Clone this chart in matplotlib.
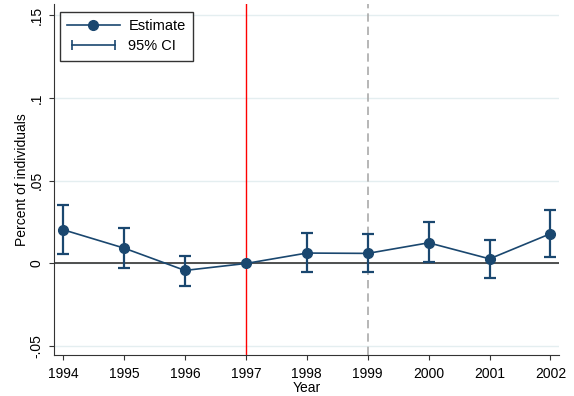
import matplotlib
matplotlib.use("Agg")
from matplotlib import pyplot as plt
from matplotlib.lines import Line2D
from matplotlib.legend_handler import HandlerLine2D

# event-study estimates
years = [1994, 1995, 1996, 1997, 1998, 1999, 2000, 2001, 2002]
estimate = [0.0204, 0.0093, -0.0042, 0.0, 0.0063, 0.0061, 0.0125, 0.0028, 0.0180]
ci_low = [0.0059, -0.0026, -0.0137, 0.0, -0.0050, -0.0050, 0.0006, -0.0085, 0.0039]
ci_high = [0.0352, 0.0215, 0.0047, 0.0, 0.0182, 0.0176, 0.0248, 0.0144, 0.0325]
ytick_vals = [-0.05, 0, 0.05, 0.1, 0.15]
ytick_labels = ["-.05", "0", ".05", ".1", ".15"]

navy = "#1a476f"
plt.rcParams['font.family'] = ['Liberation Sans', 'DejaVu Sans']

fig = plt.figure(figsize=(5.74, 3.96), dpi=100)
ax = fig.add_axes([54 / 574, 1 - 355 / 396, (559 - 54) / 574, (355 - 4) / 396])

# grid lines
for v in ytick_vals:
    ax.axhline(v, color="#e4eef0", lw=1, zorder=0)

ax.axhline(0, color="#333333", lw=1.2, zorder=1)
ax.axvline(1997, color="#ff0000", lw=1, zorder=1)
ax.axvline(1999, color="#aaaaaa", lw=1.2, ls=(0, (5, 3)), zorder=1)

# confidence intervals (skip the reference year)
err_years = [y for y, lo, hi in zip(years, ci_low, ci_high) if hi != lo]
err_low = [lo for lo, hi in zip(ci_low, ci_high) if hi != lo]
err_high = [hi for lo, hi in zip(ci_low, ci_high) if hi != lo]
ax.vlines(err_years, err_low, err_high, color=navy, lw=1.6, zorder=2)
ax.plot(err_years, err_low, ls="none", marker="_", ms=9, mew=1.6, color=navy, zorder=2)
ax.plot(err_years, err_high, ls="none", marker="_", ms=9, mew=1.6, color=navy, zorder=2)

ax.plot(years, estimate, color=navy, lw=1.2, marker="o", ms=7, zorder=3)

ax.set_xlim(1993.85, 2002.14)
ax.set_ylim(-0.0553, 0.1568)
ax.set_xticks(years)
ax.set_yticks(ytick_vals)
ax.set_yticklabels(ytick_labels, rotation=90, va="center")
ax.tick_params(axis="both", labelsize=10, length=3.6, color="#333333", direction="out")
ax.tick_params(axis="y", pad=4)
ax.tick_params(axis="x", pad=5)
ax.set_xlabel("Year", fontsize=10, labelpad=0)
ax.set_ylabel("Percent of individuals", fontsize=10)
ax.yaxis.set_label_coords(-0.05, 0.5)

for side in ["top", "right"]:
    ax.spines[side].set_visible(False)
for side in ["left", "bottom"]:
    ax.spines[side].set_color("#333333")

est_handle = Line2D([], [], color=navy, lw=1.2, marker="o", ms=7)
ci_handle = Line2D([], [], color=navy, lw=1.2, marker="|", ms=7, mew=1.2)
leg = ax.legend([est_handle, ci_handle], ["Estimate", "95% CI"],
                handler_map={ci_handle: HandlerLine2D(numpoints=2)},
                loc="upper left", bbox_to_anchor=(0.0, 0.995), fontsize=10.5,
                frameon=True, fancybox=False, edgecolor="black",
                handlelength=3.6, handletextpad=0.6, borderpad=0.5,
                labelspacing=0.45, borderaxespad=0.4)
leg.get_frame().set_linewidth(1)

plt.savefig("out.png", dpi=100)
